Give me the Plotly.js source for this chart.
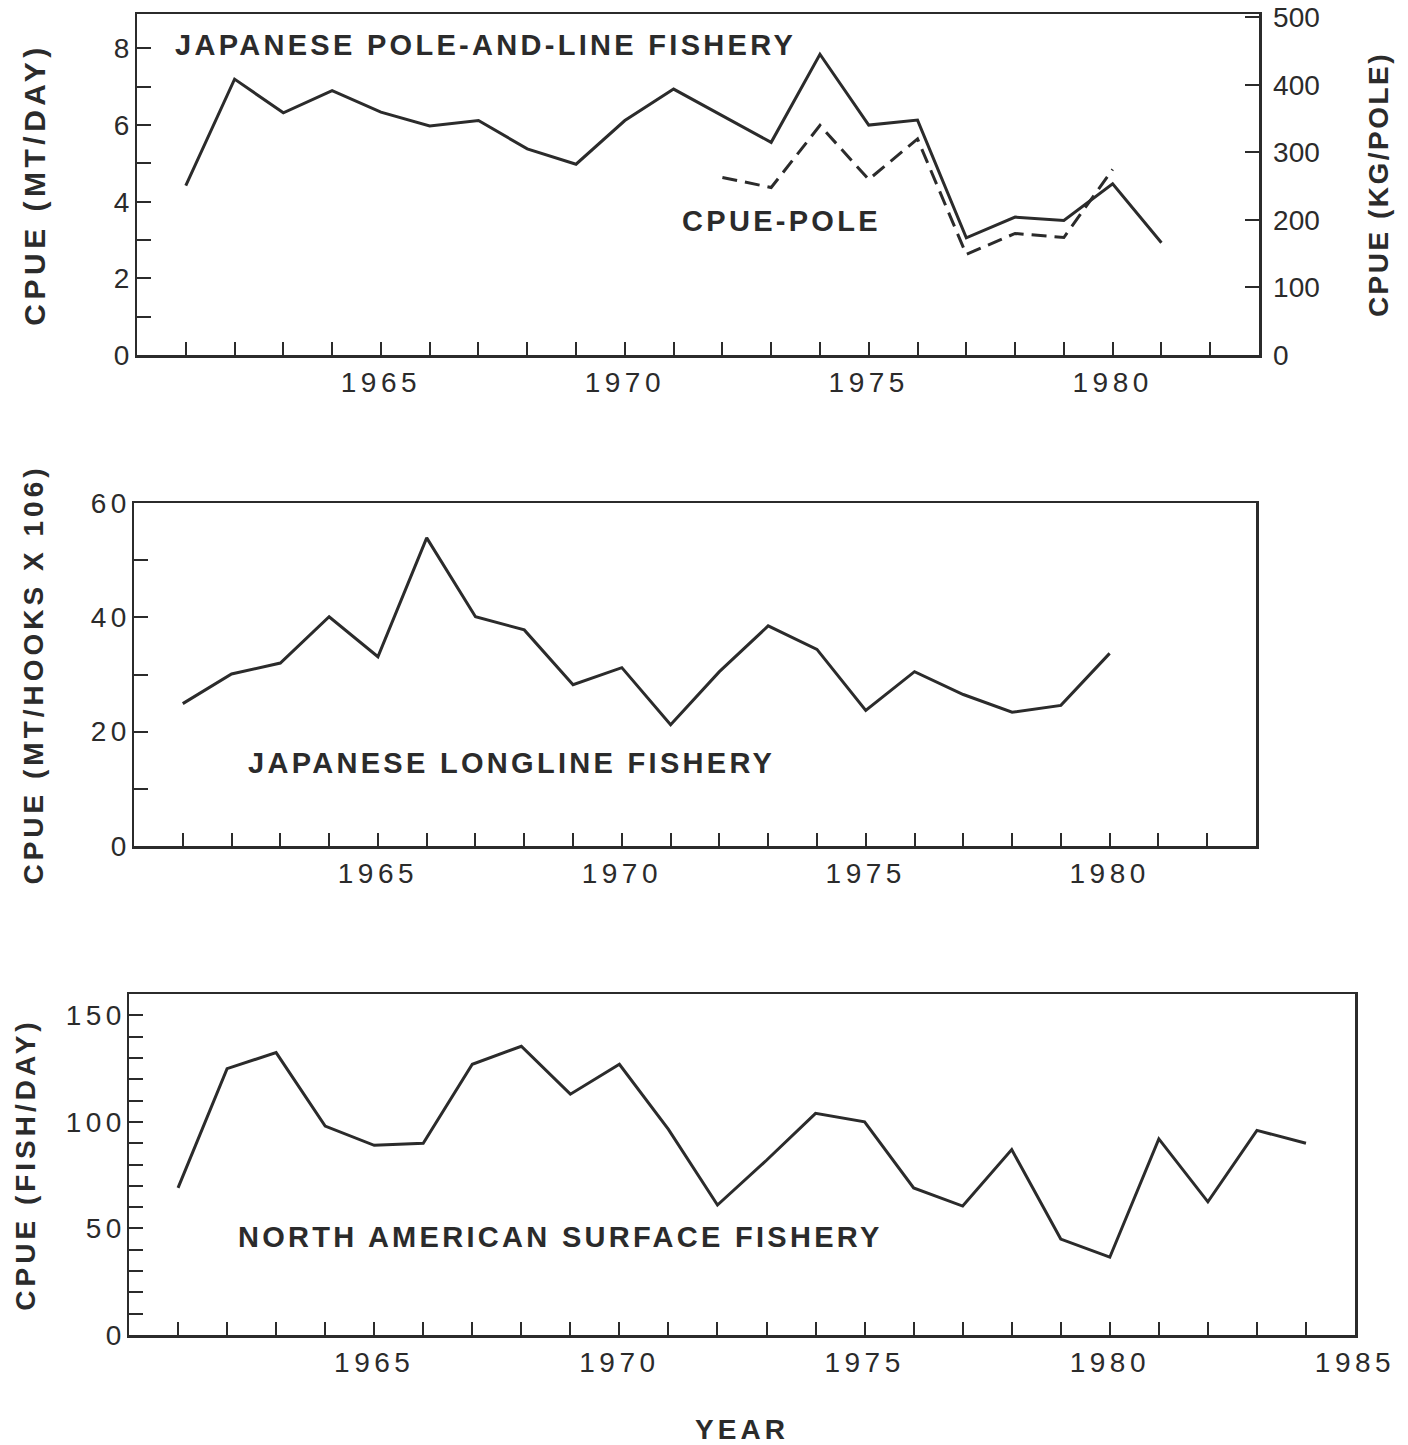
<!DOCTYPE html>
<html>
<head>
<meta charset="utf-8">
<script src="https://cdn.plot.ly/plotly-3.0.1.min.js"></script>
<style>
html, body { margin: 0; padding: 0; background: #ffffff; }
#chart { width: 1408px; height: 1445px; }
.xaxislayer-above text { letter-spacing: 4.5px; }
.yaxislayer-above text { letter-spacing: 4.5px; }
.annotation-text { letter-spacing: 3.3px; }
text.ytitle { letter-spacing: 4.5px; }
text.y2title, text.y3title, text.x3title { letter-spacing: 4px; }
text.y4title { letter-spacing: 2.5px; }
</style>
</head>
<body>
<div id="chart"></div>
<script>
// ---- Panel 1: Japanese pole-and-line fishery ----
const poleLineYears = [1961,1962,1963,1964,1965,1966,1967,1968,1969,1970,1971,1972,1973,1974,1975,1976,1977,1978,1979,1980,1981];
const poleLineMtPerDay = [4.42,7.20,6.32,6.90,6.34,5.98,6.12,5.38,4.98,6.12,6.94,6.25,5.55,7.85,6.00,6.13,3.06,3.60,3.51,4.47,2.93];
const cpuePoleYears = [1972,1973,1974,1975,1976,1977,1978,1979,1980];
const cpuePoleKgPerPole = [263,248,340,260,320,149,180,174,275];

// ---- Panel 2: Japanese longline fishery ----
const longlineYears = [1961,1962,1963,1964,1965,1966,1967,1968,1969,1970,1971,1972,1973,1974,1975,1976,1977,1978,1979,1980];
const longlineCpue = [24.9,30.1,32.0,40.1,33.1,53.9,40.1,37.8,28.2,31.2,21.2,30.5,38.5,34.4,23.7,30.5,26.5,23.4,24.6,33.7];

// ---- Panel 3: North American surface fishery ----
const surfaceYears = [1961,1962,1963,1964,1965,1966,1967,1968,1969,1970,1971,1972,1973,1974,1975,1976,1977,1978,1979,1980,1981,1982,1983,1984];
const surfaceFishPerDay = [69,125,132.5,98,89,90,127,135.5,113,127,96.5,61,82,104,100,69,60.5,87,45,36.5,92,62.5,96,90];

// ---- Tick values and labels ----
const yearTicksTop = [1961,1962,1963,1964,1965,1966,1967,1968,1969,1970,1971,1972,1973,1974,1975,1976,1977,1978,1979,1980,1981,1982];
const yearTicksBottom = [1961,1962,1963,1964,1965,1966,1967,1968,1969,1970,1971,1972,1973,1974,1975,1976,1977,1978,1979,1980,1981,1982,1983,1984,1985];
const yearLabelEvery = 5;
const mtDayTicks = [0,1,2,3,4,5,6,7,8];
const mtDayLabels = ['0','','2','','4','','6','','8'];
const kgPoleTicks = [0,100,200,300,400,500];
const kgPoleLabels = ['0','100','200','300','400','500'];
const hooksTicks = [0,10,20,30,40,50,60];
const hooksLabels = ['0','','20','','40','','60'];
const fishDayTicks = [0,10,20,30,40,50,60,70,80,90,100,110,120,130,140,150,160];
const fishDayLabels = ['0','','','','','50','','','','','100','','','','','150',''];

const ink = '#2b2b2b';
const fam = '"Liberation Sans", Arial, Helvetica, sans-serif';
const W = 1408, H = 1445;

function yearText(vals) { return vals.map(v => (v % yearLabelEvery === 0 ? String(v) : '')); }

function xAxis(dom, anchor, range, ticks, extra) {
  return Object.assign({
    domain: dom, anchor: anchor, range: range,
    tickmode: 'array', tickvals: ticks, ticktext: yearText(ticks),
    ticks: 'inside', ticklen: 13, tickwidth: 2, tickcolor: ink,
    showline: true, linewidth: 2.5, linecolor: ink, mirror: true,
    showgrid: false, zeroline: false,
    tickfont: { family: fam, size: 28, color: ink },
    ticklabelstandoff: 1, fixedrange: true
  }, extra || {});
}
function yAxis(dom, anchor, range, ticks, labels, title, tsize, standoff, extra) {
  return Object.assign({
    domain: dom, anchor: anchor, range: range,
    tickmode: 'array', tickvals: ticks, ticktext: labels,
    ticks: 'inside', ticklen: 14, tickwidth: 2, tickcolor: ink,
    showline: true, linewidth: 2.5, linecolor: ink, mirror: true,
    showgrid: false, zeroline: false,
    tickfont: { family: fam, size: 28, color: ink },
    ticklabelstandoff: -5, fixedrange: true,
    title: { text: title, font: { family: fam, size: tsize, color: ink, weight: 'bold' }, standoff: standoff }
  }, extra || {});
}

const lineStyle = { color: ink, width: 3 };

const traces = [
  { x: poleLineYears, y: poleLineMtPerDay, xaxis: 'x', yaxis: 'y', type: 'scatter', mode: 'lines',
    name: 'CPUE (MT/DAY)', line: lineStyle, hoverinfo: 'skip' },
  { x: cpuePoleYears, y: cpuePoleKgPerPole, xaxis: 'x', yaxis: 'y4', type: 'scatter', mode: 'lines',
    name: 'CPUE-POLE', line: { color: ink, width: 3, dash: '15px,8px' }, hoverinfo: 'skip' },
  { x: longlineYears, y: longlineCpue, xaxis: 'x2', yaxis: 'y2', type: 'scatter', mode: 'lines',
    name: 'Japanese longline', line: lineStyle, hoverinfo: 'skip' },
  { x: surfaceYears, y: surfaceFishPerDay, xaxis: 'x3', yaxis: 'y3', type: 'scatter', mode: 'lines',
    name: 'North American surface', line: lineStyle, hoverinfo: 'skip' }
];

function px(x) { return x / W; }
function py(y) { return 1 - y / H; }

const annFont = { family: fam, size: 29, color: ink, weight: 'bold' };
function ann(text, x, y) {
  return { text: text, xref: 'paper', yref: 'paper', x: px(x), y: py(y),
           xanchor: 'left', yanchor: 'middle', showarrow: false, font: annFont };
}

const layout = {
  width: W, height: H,
  margin: { l: 0, r: 0, t: 0, b: 0 },
  paper_bgcolor: '#ffffff', plot_bgcolor: '#ffffff',
  showlegend: false,
  font: { family: fam, color: ink },
  xaxis: xAxis([px(137), px(1259)], 'y', [1960, 1983], yearTicksTop),
  yaxis: yAxis([py(355), py(14)], 'x', [0, 8.9], mtDayTicks, mtDayLabels, 'CPUE (MT/DAY)', 30, 64),
  yaxis4: yAxis(null, 'x', [0, 505], kgPoleTicks, kgPoleLabels, 'CPUE (KG/POLE)', 28, 50,
                { overlaying: 'y', side: 'right', mirror: false, ticklabelstandoff: 6 }),
  xaxis2: xAxis([px(134), px(1256)], 'y2', [1960, 1983], yearTicksTop),
  yaxis2: yAxis([py(846), py(503)], 'x2', [0, 60], hooksTicks, hooksLabels, 'CPUE (MT/HOOKS X 106)', 28, 48),
  xaxis3: xAxis([px(129), px(1355)], 'y3', [1960, 1985], yearTicksBottom,
                { title: { text: 'YEAR', font: { family: fam, size: 28, color: ink, weight: 'bold' }, standoff: 44 } }),
  yaxis3: yAxis([py(1335), py(994)], 'x3', [0, 160], fishDayTicks, fishDayLabels, 'CPUE (FISH/DAY)', 28, 36),
  annotations: [
    ann('JAPANESE POLE-AND-LINE FISHERY', 173, 45),
    ann('CPUE-POLE', 680, 221),
    ann('JAPANESE LONGLINE FISHERY', 246, 763),
    ann('NORTH AMERICAN SURFACE FISHERY', 236, 1237)
  ]
};
delete layout.yaxis4.domain;

Plotly.newPlot('chart', traces, layout, { staticPlot: true, displayModeBar: false });
</script>
</body>
</html>
